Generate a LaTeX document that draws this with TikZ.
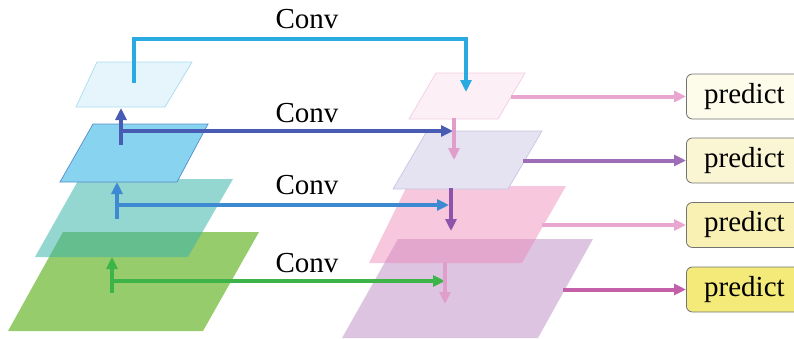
\documentclass[tikz,border=0pt]{standalone}
\usepackage{fontspec}
\setmainfont{Liberation Serif}
\usetikzlibrary{arrows.meta}
\definecolor{cCyan}{RGB}{41,171,226}
\definecolor{cDBlue}{RGB}{72,92,180}
\definecolor{cBlue}{RGB}{62,138,210}
\definecolor{cGreen}{RGB}{60,180,72}
\definecolor{cPink}{RGB}{226,158,202}
\definecolor{cPurple}{RGB}{140,84,170}
\definecolor{cLPink}{RGB}{232,166,208}
\definecolor{cMag}{RGB}{196,96,170}
\definecolor{lOne}{RGB}{230,245,251}
\definecolor{lOneB}{RGB}{168,220,242}
\definecolor{lTwo}{RGB}{136,212,240}
\definecolor{lTwoB}{RGB}{84,140,200}
\definecolor{lThree}{RGB}{60,180,170}
\definecolor{lFour}{RGB}{80,170,10}
\definecolor{rOne}{RGB}{253,239,246}
\definecolor{rOneB}{RGB}{243,205,226}
\definecolor{rTwo}{RGB}{229,226,241}
\definecolor{rTwoB}{RGB}{201,197,226}
\definecolor{rThree}{RGB}{235,130,180}
\definecolor{rFour}{RGB}{170,110,180}
\definecolor{pOne}{RGB}{253,251,234}
\definecolor{pTwo}{RGB}{250,245,211}
\definecolor{pThree}{RGB}{248,241,179}
\definecolor{pFour}{RGB}{243,234,122}
\begin{document}
\begin{tikzpicture}[x=1pt,y=-1pt,
  conn/.style={line width=4pt,-{Triangle[length=12pt,width=11pt]}},
  plain/.style={line width=4pt},
  lbl/.style={font=\fontsize{29}{30}\selectfont,anchor=base,inner sep=0pt},
  predbox/.style={draw=black!55,line width=0.8pt,rounded corners=6pt,
    minimum width=116pt,minimum height=45pt,anchor=west,inner sep=0pt,
    font=\fontsize{29}{30}\selectfont}]
\useasboundingbox (0,0) rectangle (794,338);
\clip (0,0) rectangle (794,338);
% left pyramid
\fill[lFour,fill opacity=0.6] (63,232) -- (259,232) -- (203,331) -- (8,331) -- cycle;
\fill[lThree,fill opacity=0.55] (79,179) -- (233,179) -- (188,257) -- (35,257) -- cycle;
\filldraw[fill=lTwo,draw=lTwoB,line width=0.7pt] (93,124) -- (208,124) -- (177,182) -- (60,182) -- cycle;
\filldraw[fill=lOne,draw=lOneB,line width=0.7pt] (97,62) -- (192,62) -- (165,107) -- (76,107) -- cycle;
% right pyramid
\fill[rFour,fill opacity=0.4] (398,239) -- (593,239) -- (538,338) -- (342,338) -- cycle;
\fill[rThree,fill opacity=0.45] (407,186) -- (566,186) -- (522,263) -- (369,263) -- cycle;
\filldraw[fill=rTwo,draw=rTwoB,line width=0.7pt] (427,131) -- (542,131) -- (508,189) -- (393,189) -- cycle;
\filldraw[fill=rOne,draw=rOneB,line width=0.7pt] (436,73) -- (525,73) -- (498,119) -- (409,119) -- cycle;
% predict boxes
\node[predbox,fill=pOne] (p1) at (686,96.5) {predict};
\node[predbox,fill=pTwo] (p2) at (686,160.5) {predict};
\node[predbox,fill=pThree] (p3) at (686,225) {predict};
\node[predbox,fill=pFour] (p4) at (686,289.5) {predict};
% coordinates
\coordinate (a1s) at (134,83);
\coordinate (a1e) at (466,92);
\coordinate (b2s) at (121,145);
\coordinate (b2t) at (121,108);
\coordinate (b2h) at (121,131);
\coordinate (b2e) at (453,131);
\coordinate (b3s) at (117,219);
\coordinate (b3t) at (117,182);
\coordinate (b3h) at (117,205);
\coordinate (b3e) at (449,205);
\coordinate (b4s) at (112,293);
\coordinate (b4t) at (112,257);
\coordinate (b4h) at (112,281);
\coordinate (b4e) at (445,281);
\coordinate (r1s) at (454,118);
\coordinate (r1e) at (454,160);
\coordinate (r2s) at (451,188);
\coordinate (r2e) at (451,231);
\coordinate (r3s) at (445,262);
\coordinate (r3e) at (445,304);
\coordinate (q1) at (511,96.5);
\coordinate (q2) at (523,160.5);
\coordinate (q3) at (542,225);
\coordinate (q4) at (563,289.5);
% left arrows
\draw[conn,cCyan] (a1s) -- (134,39) -- (466,39) -- (a1e);
\draw[conn,cDBlue] (b2s) -- (b2t);
\draw[conn,cDBlue] (b2h) -- (b2e);
\draw[conn,cBlue] (b3s) -- (b3t);
\draw[conn,cBlue] (b3h) -- (b3e);
\draw[conn,cGreen] (b4s) -- (b4t);
\draw[conn,cGreen] (b4h) -- (b4e);
% right vertical arrows
\draw[conn,cPink] (r1s) -- (r1e);
\draw[conn,cPurple] (r2s) -- (r2e);
\draw[conn,cPink] (r3s) -- (r3e);
% to predict
\draw[conn,cLPink] (q1) -- (p1.west);
\draw[conn,cPurple!85] (q2) -- (p2.west);
\draw[conn,cLPink] (q3) -- (p3.west);
\draw[conn,cMag] (q4) -- (p4.west);
% labels
\node[lbl] (c1) at (307,28) {Conv};
\node[lbl] (c2) at (307,122) {Conv};
\node[lbl] (c3) at (307,194) {Conv};
\node[lbl] (c4) at (307,272) {Conv};
\end{tikzpicture}
\end{document}
